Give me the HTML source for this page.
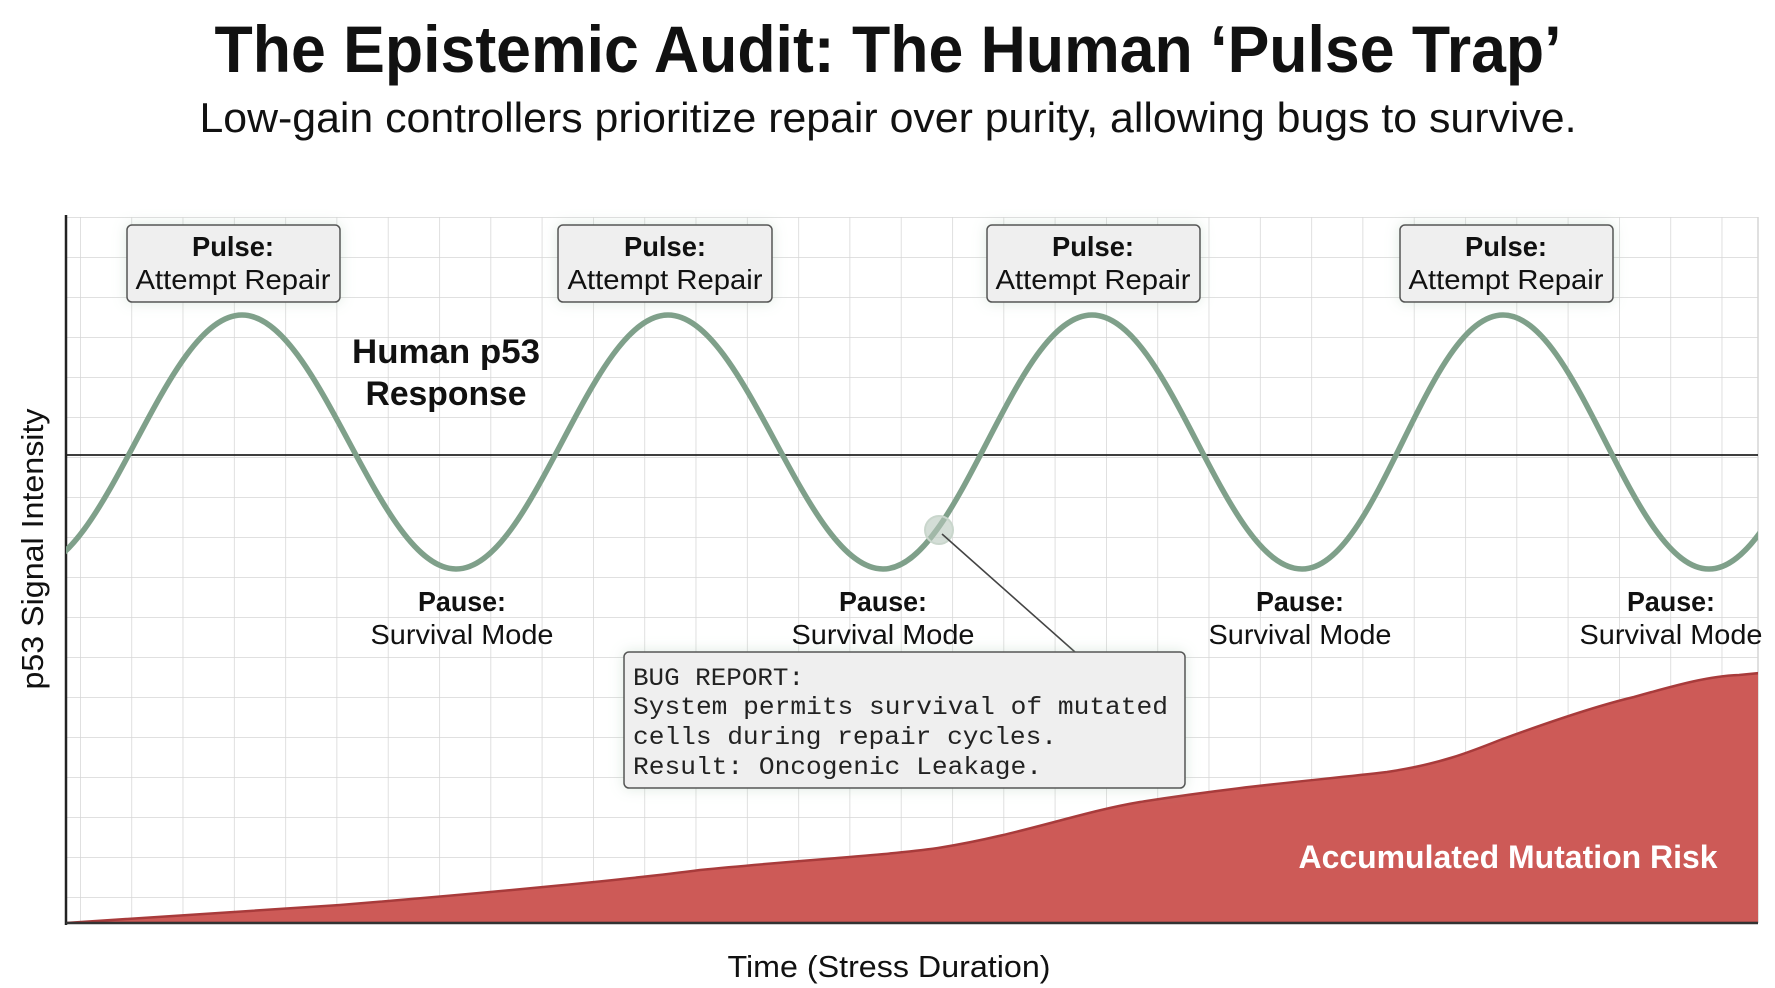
<!DOCTYPE html>
<html><head><meta charset="utf-8"><style>
html,body{margin:0;padding:0;background:#fff;}
svg{display:block;}
text{font-family:"Liberation Sans",sans-serif;fill:#111;}
.b{font-weight:bold;}
.m{font-family:"Liberation Mono",monospace;font-size:25px;fill:#222;}
</style></head><body>
<svg width="1775" height="988" viewBox="0 0 1775 988" xmlns="http://www.w3.org/2000/svg">
<defs>
<clipPath id="pc"><rect x="66" y="217" width="1692" height="706"/></clipPath>
<filter id="glow" x="-20%" y="-30%" width="140%" height="160%">
<feGaussianBlur in="SourceAlpha" stdDeviation="7"/><feOffset dy="0"/>
<feComponentTransfer><feFuncA type="linear" slope="0.35"/></feComponentTransfer>
<feColorMatrix type="matrix" values="0 0 0 0 0.35 0 0 0 0 0.55 0 0 0 0 0.4 0 0 0 1 0"/>
<feMerge><feMergeNode/><feMergeNode in="SourceGraphic"/></feMerge></filter>
<pattern id="grid" x="80" y="217" width="51.3" height="40" patternUnits="userSpaceOnUse">
<path d="M0 0 V40 M0 0 H51.3" stroke="#d6d6d6" stroke-width="1.5" fill="none"/></pattern>
</defs>

<text x="888" y="72" text-anchor="middle" class="b" font-size="66" textLength="1347" lengthAdjust="spacingAndGlyphs">The Epistemic Audit: The Human ‘Pulse Trap’</text>
<text x="888" y="132" text-anchor="middle" font-size="42" textLength="1377" lengthAdjust="spacingAndGlyphs">Low-gain controllers prioritize repair over purity, allowing bugs to survive.</text>

<rect x="66" y="217" width="1692" height="706" fill="url(#grid)"/>
<line x1="1758" y1="217" x2="1758" y2="923" stroke="#d6d6d6" stroke-width="1.5"/>

<g clip-path="url(#pc)">
<path d="M66 923 L340 905 C500 892 640 878 700 870 C800 860 880 856 938 848 C1020 835 1080 812 1140 802 C1240 786 1320 780 1387 772 C1440 764 1470 752 1500 740 C1560 718 1600 705 1634 697 C1680 684 1710 676 1739 675 L1760 673 L1760 923 Z" fill="#cd5a57" stroke="#a83b3b" stroke-width="2.5"/>
</g>

<line x1="66" y1="455" x2="1758" y2="455" stroke="#222" stroke-width="1.8"/>
<line x1="66" y1="215" x2="66" y2="925" stroke="#222" stroke-width="2.5"/>
<line x1="66" y1="923" x2="1758" y2="923" stroke="#333" stroke-width="2.5"/>

<g clip-path="url(#pc)">
<path d="M29 569 C107 569 164 315 242 315 C320 315 378 569 456 569 C534 569 590 315 668 315 C746 315 805 569 883 569 C960 569 1014 315 1092 315 C1170 315 1224 569 1302 569 C1378 569 1427 315 1503 315 C1579 315 1632 569 1709 569 C1785 569 1838 315 1915 315" fill="none" stroke="#7fa08a" stroke-width="5.5"/>
</g>

<circle cx="939" cy="530" r="14" fill="#b8c8bc" fill-opacity="0.6" stroke="#c9d6cc" stroke-width="2"/>
<line x1="942" y1="534" x2="1075" y2="652" stroke="#444" stroke-width="1.6"/>

<g filter="url(#glow)">
<rect x="127" y="225" width="213" height="77" rx="5" fill="#efefef" stroke="#555" stroke-width="1.5"/>
<rect x="558" y="225" width="214" height="77" rx="5" fill="#efefef" stroke="#555" stroke-width="1.5"/>
<rect x="987" y="225" width="213" height="77" rx="5" fill="#efefef" stroke="#555" stroke-width="1.5"/>
<rect x="1400" y="225" width="213" height="77" rx="5" fill="#efefef" stroke="#555" stroke-width="1.5"/>
<rect x="624" y="652" width="561" height="136" rx="5" fill="#efefef" stroke="#555" stroke-width="1.5"/>
</g>

<g font-size="28" text-anchor="middle">
<text x="233" y="256" class="b" textLength="82" lengthAdjust="spacingAndGlyphs">Pulse:</text>
<text x="233" y="289" textLength="195" lengthAdjust="spacingAndGlyphs">Attempt Repair</text>
<text x="665" y="256" class="b" textLength="82" lengthAdjust="spacingAndGlyphs">Pulse:</text>
<text x="665" y="289" textLength="195" lengthAdjust="spacingAndGlyphs">Attempt Repair</text>
<text x="1093" y="256" class="b" textLength="82" lengthAdjust="spacingAndGlyphs">Pulse:</text>
<text x="1093" y="289" textLength="195" lengthAdjust="spacingAndGlyphs">Attempt Repair</text>
<text x="1506" y="256" class="b" textLength="82" lengthAdjust="spacingAndGlyphs">Pulse:</text>
<text x="1506" y="289" textLength="195" lengthAdjust="spacingAndGlyphs">Attempt Repair</text>

<text x="462" y="611" class="b" textLength="88" lengthAdjust="spacingAndGlyphs">Pause:</text>
<text x="462" y="644" textLength="183" lengthAdjust="spacingAndGlyphs">Survival Mode</text>
<text x="883" y="611" class="b" textLength="88" lengthAdjust="spacingAndGlyphs">Pause:</text>
<text x="883" y="644" textLength="183" lengthAdjust="spacingAndGlyphs">Survival Mode</text>
<text x="1300" y="611" class="b" textLength="88" lengthAdjust="spacingAndGlyphs">Pause:</text>
<text x="1300" y="644" textLength="183" lengthAdjust="spacingAndGlyphs">Survival Mode</text>
<text x="1671" y="611" class="b" textLength="88" lengthAdjust="spacingAndGlyphs">Pause:</text>
<text x="1671" y="644" textLength="183" lengthAdjust="spacingAndGlyphs">Survival Mode</text>
</g>

<text x="446" y="363" text-anchor="middle" class="b" font-size="34" textLength="188" lengthAdjust="spacingAndGlyphs">Human p53</text>
<text x="446" y="405" text-anchor="middle" class="b" font-size="34" textLength="161" lengthAdjust="spacingAndGlyphs">Response</text>

<text x="633" y="685" class="m" textLength="171" lengthAdjust="spacingAndGlyphs">BUG REPORT:</text>
<text x="633" y="714" class="m" textLength="535" lengthAdjust="spacingAndGlyphs">System permits survival of mutated</text>
<text x="633" y="744" class="m" textLength="424" lengthAdjust="spacingAndGlyphs">cells during repair cycles.</text>
<text x="633" y="774" class="m" textLength="409" lengthAdjust="spacingAndGlyphs">Result: Oncogenic Leakage.</text>

<text x="1508" y="868" text-anchor="middle" class="b" font-size="32" style="fill:#fff" textLength="419" lengthAdjust="spacingAndGlyphs">Accumulated Mutation Risk</text>

<text x="889" y="977" text-anchor="middle" font-size="31" textLength="323" lengthAdjust="spacingAndGlyphs">Time (Stress Duration)</text>
<text transform="translate(43,549) rotate(-90)" text-anchor="middle" font-size="31" textLength="281" lengthAdjust="spacingAndGlyphs">p53 Signal Intensity</text>
</svg>
</body></html>
